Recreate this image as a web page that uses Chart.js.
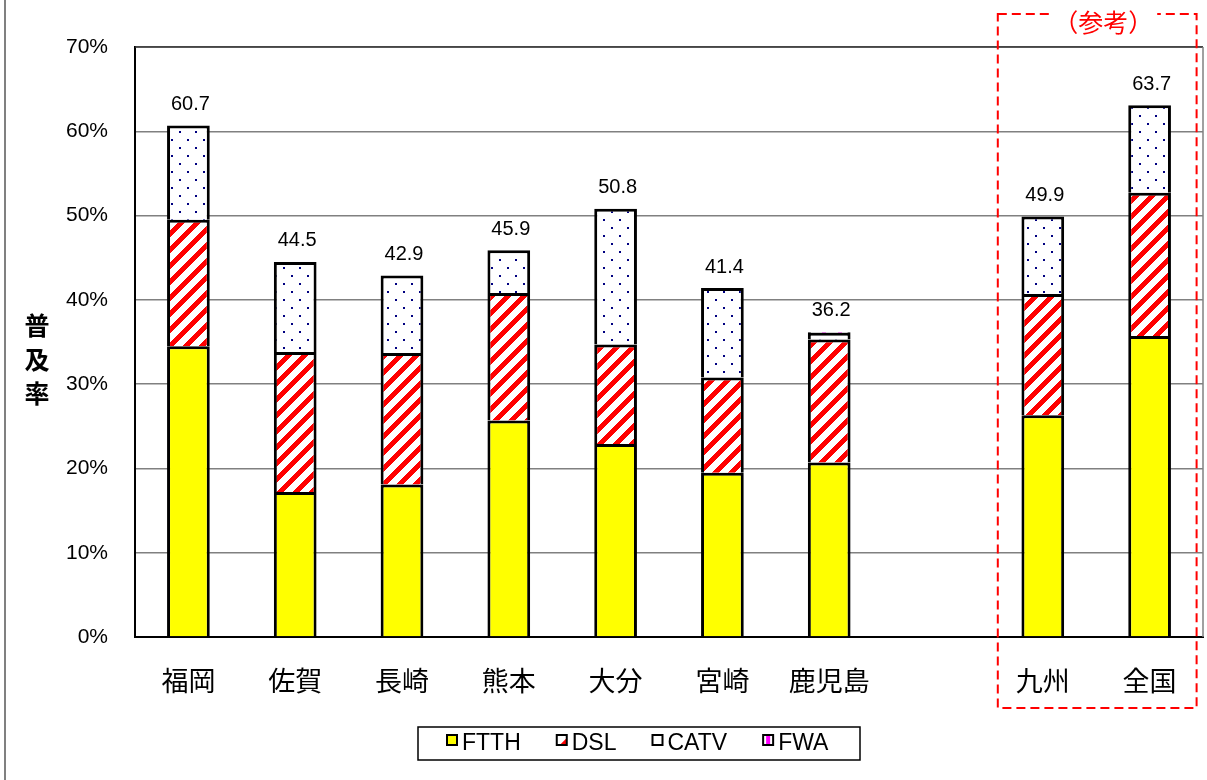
<!DOCTYPE html>
<html><head><meta charset="utf-8">
<script src="https://cdn.jsdelivr.net/npm/chart.js@4.4.1/dist/chart.umd.min.js"></script>
<style>html,body{margin:0;padding:0;background:#fff;}</style>
</head><body>
<canvas id="c" width="1207" height="780" style="display:block;width:1207px;height:780px"></canvas>
<script>
// ---- data ----
const categories = ['福岡','佐賀','長崎','熊本','大分','宮崎','鹿児島','','九州','全国'];
const ftth = [34.5, 17.2, 18.1, 25.7, 22.9, 19.5, 20.7, null, 26.3, 35.7];
const dsl  = [15.0, 16.6, 15.6, 15.1, 11.8, 11.3, 14.6, null, 14.4, 17.0];
const catv = [11.2, 10.7,  9.2,  5.1, 16.1, 10.6,  0.8, null,  9.2, 10.4];
const fwa  = [ 0.0,  0.0,  0.0,  0.0,  0.0,  0.0,  0.1, null,  0.0,  0.0];
const totals = ['60.7','44.5','42.9','45.9','50.8','41.4','36.2', null,'49.9','63.7'];
const yTicks = [0,10,20,30,40,50,60,70];
const seriesNames = ['FTTH','DSL','CATV','FWA'];
const yTitle = ['普','及','率'];
const refTitle = '（参考）';
const refGroup = ['九州','全国'];

const canvas = document.getElementById('c');
const ctx = canvas.getContext('2d');

function tile(draw){
  const c = document.createElement('canvas'); c.width = 16; c.height = 16;
  const g = c.getContext('2d'); g.fillStyle = '#fff'; g.fillRect(0,0,16,16);
  draw(g); return ctx.createPattern(c, 'repeat');
}
const stripe = tile(g => { g.fillStyle = '#ff0000';
  for (let y=0;y<16;y++) for (let x=0;x<16;x++) if (((x+y)%16) < 7) g.fillRect(x,y,1,1); });
const dots = tile(g => { g.fillStyle = '#000080'; g.fillRect(3,3,2,2); g.fillRect(11,11,2,2); });
const vstripe = tile(g => { g.fillStyle = '#ff00ff'; g.fillRect(6,0,4,16); });

const ds = (label, data, bg) => ({label, data, backgroundColor: bg, borderColor:'#000',
  borderWidth: 3, borderSkipped: 'start', barPercentage: 0.4, categoryPercentage: 1.0});

const fonts = {
  cjk: '"Noto Sans CJK JP", sans-serif',
  lat: '"Liberation Sans", Arial, sans-serif'
};

const decor = {
  id: 'decor',
  beforeDraw(chart){
    const c = chart.ctx; c.save();
    c.fillStyle = '#fff'; c.fillRect(0,0,chart.width,chart.height);
    c.strokeStyle = '#808080'; c.lineWidth = 2;
    c.beginPath(); c.moveTo(5,0); c.lineTo(5,chart.height); c.stroke();
    c.restore();
  },
  afterDatasetsDraw(chart){
    const c = chart.ctx, a = chart.chartArea, xs = chart.scales.x, ys = chart.scales.y;
    c.save();
    // plot frame top / right
    c.lineWidth = 1.5; c.strokeStyle = '#333';
    c.beginPath(); c.moveTo(a.left, a.top); c.lineTo(a.right, a.top); c.stroke();
    c.strokeStyle = '#808080';
    c.beginPath(); c.moveTo(a.right, a.top); c.lineTo(a.right, a.bottom); c.stroke();

    // value labels
    c.fillStyle = '#000'; c.font = '20px ' + fonts.lat; c.textAlign = 'center'; c.textBaseline = 'middle';
    totals.forEach((t,i) => {
      if (t == null) return;
      const top = ys.getPixelForValue((ftth[i]||0)+(dsl[i]||0)+(catv[i]||0)+(fwa[i]||0));
      c.fillText(t, xs.getPixelForValue(i) + 2, top - 21);
    });

    // y title, stacked characters
    c.font = 'bold 25px ' + fonts.cjk;
    yTitle.forEach((ch,k) => c.fillText(ch, 37, 325 + k*34));

    // reference dashed box
    const i0 = categories.indexOf(refGroup[0]), i1 = categories.indexOf(refGroup[1]);
    const bx0 = xs.getPixelForValue(i0) - 45, bx1 = xs.getPixelForValue(i1) + 47;
    const by0 = 14, by1 = 708;
    c.strokeStyle = '#ff0000'; c.lineWidth = 2; c.setLineDash([9,5]);
    c.strokeRect(bx0, by0, bx1-bx0, by1-by0);
    c.setLineDash([]);
    c.font = '25px ' + fonts.cjk;
    const cx = (bx0+bx1)/2 + 6;
    const tw = c.measureText(refTitle).width;
    c.fillStyle = '#fff'; c.fillRect(cx - tw/2 - 4, by0 - 4, tw + 8, 8);
    c.fillStyle = '#ff0000'; c.fillText(refTitle, cx, 22);

    // legend
    const lx0 = 418, ly0 = 727, lx1 = 860, ly1 = 760;
    c.fillStyle = '#fff'; c.fillRect(lx0, ly0, lx1-lx0, ly1-ly0);
    c.strokeStyle = '#000'; c.lineWidth = 1.5; c.strokeRect(lx0, ly0, lx1-lx0, ly1-ly0);
    c.font = '23px ' + fonts.lat; c.textAlign = 'left'; c.textBaseline = 'middle';
    let x = 447; const sy = 735;
    seriesNames.forEach((name,k) => {
      c.fillStyle = '#fff'; c.fillRect(x, sy, 10, 10);
      if (k === 0) { c.fillStyle = '#ffff00'; c.fillRect(x, sy, 10, 10); }
      if (k === 1) { c.fillStyle = '#ff0000'; c.beginPath(); c.moveTo(x+10,sy+3); c.lineTo(x+10,sy+10); c.lineTo(x+3,sy+10); c.closePath(); c.fill(); }
      if (k === 3) { c.fillStyle = '#ff00ff'; c.fillRect(x+3, sy, 4, 10); }
      c.strokeStyle = '#000'; c.lineWidth = 2; c.strokeRect(x, sy, 10, 10);
      c.fillStyle = '#000'; c.fillText(name, x + 15, 744);
      x = x + 15 + c.measureText(name).width + 36;
    });
    c.restore();
  }
};

new Chart(canvas, {
  type: 'bar',
  data: {
    labels: categories,
    datasets: [ds(seriesNames[0], ftth, '#ffff00'), ds(seriesNames[1], dsl, stripe),
               ds(seriesNames[2], catv, dots), ds(seriesNames[3], fwa, vstripe)]
  },
  options: {
    responsive: false, animation: false, devicePixelRatio: 1,
    layout: { padding: { top: 47, right: 4, left: 0, bottom: 0 } },
    plugins: { legend: { display: false }, tooltip: { enabled: false } },
    scales: {
      x: {
        stacked: true,
        grid: { display: false, drawTicks: false },
        border: { display: true, color: '#000', width: 2 },
        ticks: { color: '#000', font: { family: fonts.cjk, size: 27 }, padding: 28, maxRotation: 0, autoSkip: false },
        afterFit(s){ s.height = 143; }
      },
      y: {
        stacked: true, min: 0, max: 70,
        afterBuildTicks(s){ s.ticks = yTicks.map(v => ({value: v})); },
        grid: { color: '#808080', lineWidth: 1.5, drawTicks: false },
        border: { display: true, color: '#000', width: 2 },
        ticks: { color: '#000', font: { family: fonts.lat, size: 21 }, padding: 27, callback: v => v + '%' },
        afterFit(s){ s.width = 135; }
      }
    }
  },
  plugins: [decor]
});
</script>
</body></html>
